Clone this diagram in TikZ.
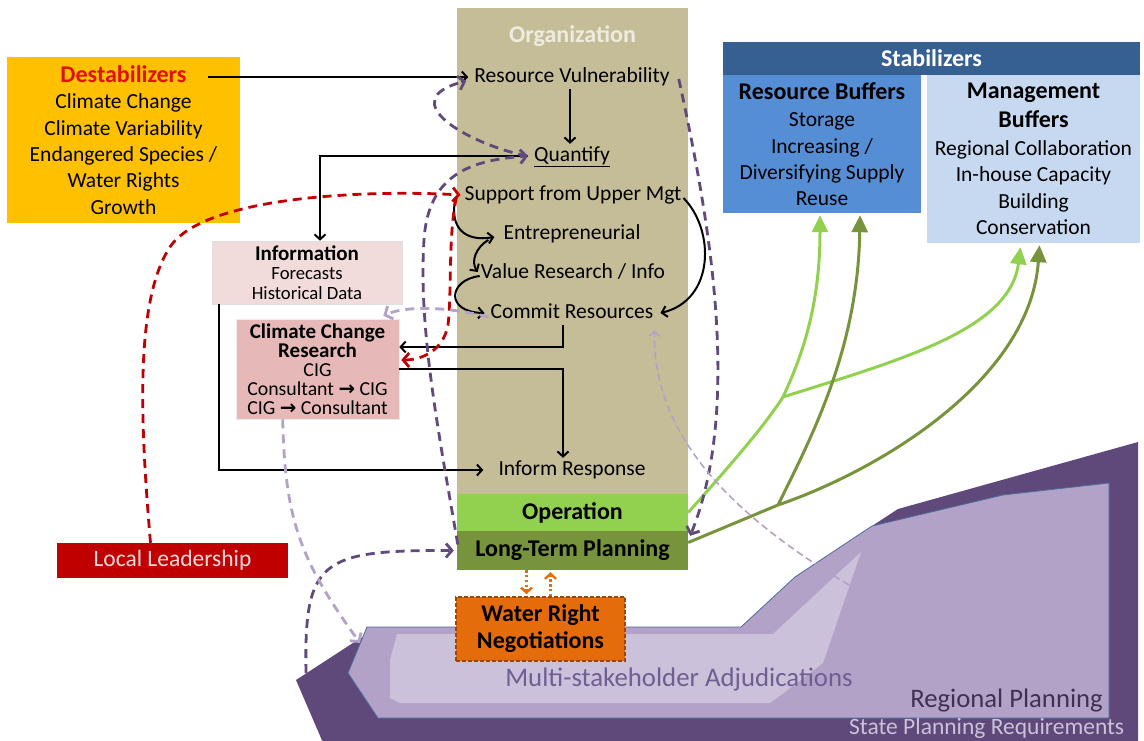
\documentclass[tikz,border=0pt]{standalone}
\usepackage{fontspec}
\setmainfont{Carlito}
\newfontfamily\symfont{DejaVu Sans}
\usetikzlibrary{arrows.meta,calc}

\definecolor{destfill}{HTML}{FFC000}
\definecolor{desttitle}{HTML}{E01010}
\definecolor{orgfill}{HTML}{C4BD97}
\definecolor{orgtitle}{HTML}{EEECE1}
\definecolor{opfill}{HTML}{92D050}
\definecolor{ltpfill}{HTML}{77933C}
\definecolor{stabfill}{HTML}{376092}
\definecolor{rbfill}{HTML}{558ED5}
\definecolor{mbfill}{HTML}{C6D9F1}
\definecolor{infofill}{HTML}{F2DCDB}
\definecolor{ccrfill}{HTML}{E6B9B8}
\definecolor{llfill}{HTML}{C00000}
\definecolor{lltext}{HTML}{F2DCDB}
\definecolor{wrnfill}{HTML}{E46C0A}
\definecolor{wrnedge}{HTML}{984807}
\definecolor{statefill}{HTML}{5F497A}
\definecolor{regionfill}{HTML}{B3A2C7}
\definecolor{adjfill}{HTML}{CCC1DA}
\definecolor{regionedge}{HTML}{4A6C9B}
\definecolor{adjtext}{HTML}{6F5E92}
\definecolor{regiontext}{HTML}{403152}
\definecolor{pdark}{HTML}{604A7B}
\definecolor{plight}{HTML}{B3A2C7}
\definecolor{rdash}{HTML}{C00000}
\definecolor{lgreen}{HTML}{92D050}
\definecolor{dgreen}{HTML}{77933C}
\definecolor{odot}{HTML}{E46C0A}

\setlength{\lineskiplimit}{-20pt}

\tikzset{
  panel/.style={rectangle, inner sep=0pt, align=center, font=\fontsize{21.5}{26.3}\selectfont},
  itm/.style={inner xsep=6pt, inner ysep=2pt, text height=15pt, text depth=5pt,
              font=\fontsize{21.5}{26}\selectfont},
  blk/.style={draw=black, line width=2pt, -{Straight Barb[length=5pt,width=11pt]}},
  pdash/.style={draw=pdark, line width=2.8pt, dash pattern=on 9pt off 6pt,
                -{Straight Barb[length=6pt,width=14pt]}},
  lpdash/.style={draw=plight, line width=2.8pt, dash pattern=on 9pt off 6pt,
                 -{Straight Barb[length=6pt,width=14pt]}},
  lpthin/.style={draw=plight, line width=1.6pt, dash pattern=on 7pt off 4pt,
                 -{Straight Barb[length=5pt,width=11pt]}},
  rdashed/.style={draw=rdash, line width=2.8pt, dash pattern=on 9pt off 6pt,
                  -{Straight Barb[length=6pt,width=14pt]}},
  gline/.style={line width=3pt},
  garrow/.style={line width=3pt, -{Triangle[length=17pt,width=16pt]}},
  odotted/.style={draw=odot, line width=2.4pt, dash pattern=on 2.4pt off 2.4pt,
                  -{Straight Barb[length=5pt,width=11pt]}},
}

\begin{document}
\begin{tikzpicture}[x=1pt,y=-1pt]
\useasboundingbox (0,0) rectangle (1144,740);
\clip (0,0) rectangle (1144,740);

% planning layers at the bottom right
\fill[statefill] (296,680) -- (356,641) -- (368,634) -- (735,634) -- (872,526)
  -- (898,509) -- (1138,442) -- (1138,745) -- (324,745) -- cycle;
\filldraw[fill=regionfill, draw=regionedge, line width=0.8pt]
  (348,673) -- (367,627) -- (741,627) -- (795,577) -- (872,526) -- (1003,495)
  -- (1109,483) -- (1109,718) -- (378,718) -- cycle;
\fill[adjfill] (397,634) -- (773,634) -- (861,552) -- (823,663) -- (781,695)
  -- (770,703) -- (400,703) -- (390,698) -- (390,660) -- cycle;

\node[font=\fontsize{26.8}{30}\selectfont, text=adjtext, anchor=base, inner sep=0]
  (adjt) at (679,686) {Multi-stakeholder Adjudications};
\node[font=\fontsize{26.7}{30}\selectfont, text=regiontext, anchor=base east, inner sep=0]
  (regt) at (1103,707) {Regional Planning};
\node[font=\fontsize{23.5}{28}\selectfont, text=adjfill, anchor=base west, inner sep=0]
  (statet) at (849,734) {State Planning Requirements};

% boxes
\node[panel, fill=destfill, minimum width=233pt, minimum height=166pt] (dest) at (123.5,140)
  {{\fontsize{24}{26.3}\selectfont\bfseries\color{desttitle}Destabilizers}\\Climate Change\\
   Climate Variability\\Endangered Species /\\Water Rights\\Growth};

\node[fill=orgfill, minimum width=231pt, minimum height=486pt, inner sep=0] (org) at (572.5,251) {};
\node[font=\fontsize{24}{28}\selectfont\bfseries, text=orgtitle] (orgt) at (572.5,36) {Organization};
\node[fill=opfill, minimum width=231pt, minimum height=37pt, inner sep=0,
      font=\fontsize{24}{28}\selectfont\bfseries] (op) at (572.5,512.5) {Operation};
\node[fill=ltpfill, minimum width=231pt, minimum height=39pt, inner sep=0,
      font=\fontsize{24}{28}\selectfont\bfseries] (ltp) at (572.5,550.5) {Long-Term Planning};

\node[fill=stabfill, minimum width=417pt, minimum height=33pt, inner sep=0, text=white,
      font=\fontsize{24}{28}\selectfont\bfseries] (stab) at (931.5,58.5) {Stabilizers};
\node[panel, fill=rbfill, minimum width=198pt, minimum height=138pt] (rb) at (822,144)
  {{\fontsize{24}{26.3}\selectfont\bfseries Resource Buffers}\\[1.5pt]Storage\\Increasing /\\
   Diversifying Supply\\Reuse};
\node[panel, fill=mbfill, minimum width=213pt, minimum height=168pt] (mb) at (1033.5,159)
  {{\fontsize{24}{26.3}\selectfont\bfseries Management}\\[2.5pt]
   {\fontsize{24}{26.3}\selectfont\bfseries Buffers}\\[1.5pt]Regional Collaboration\\
   In-house Capacity\\Building\\Conservation};

\node[panel, fill=infofill, draw=black!12, line width=0.6pt, minimum width=190pt,
      minimum height=63pt, font=\fontsize{18.7}{19.5}\selectfont] (info) at (307,272.5)
  {{\fontsize{21}{19.5}\selectfont\bfseries Information}\\Forecasts\\Historical Data};
\node[panel, fill=ccrfill, draw=black!8, line width=0.6pt, minimum width=163pt,
      minimum height=100pt, font=\fontsize{19.8}{19}\selectfont] (ccr) at (317.5,369)
  {{\fontsize{21}{19}\selectfont\bfseries Climate Change}\\
   {\fontsize{21}{19}\selectfont\bfseries Research}\\CIG\\
   Consultant {\symfont\bfseries →} CIG\\CIG {\symfont\bfseries →} Consultant};

\node[fill=llfill, minimum width=231pt, minimum height=35pt, inner sep=0, text=lltext,
      font=\fontsize{23.5}{26}\selectfont] (ll) at (172.5,560.5) {Local Leadership};

\node[fill=wrnfill, draw=wrnedge, line width=1.6pt, dash pattern=on 4pt off 2pt,
      minimum width=169pt, minimum height=64pt, inner sep=0, align=center,
      font=\fontsize{24}{27}\selectfont\bfseries] (wrn) at (540.5,629) {Water Right\\Negotiations};

% organization steps
\node[itm] (rv) at (572,77) {Resource Vulnerability};
\node[itm] (quant) at (572,156) {\underline{Quantify}};
\node[itm] (sup) at (573,195) {Support from Upper Mgt};
\node[itm] (ent) at (572,234) {Entrepreneurial};
\node[itm] (val) at (573,273) {Value Research / Info};
\node[itm] (com) at (572,313) {Commit Resources};
\node[itm] (inf) at (572,470) {Inform Response};

% stabilizer links
\coordinate (g1) at (783,397);
\coordinate (g2) at (778,505);
\draw[garrow, lgreen] (op.east) .. controls (735,460) and (765,425) .. (g1)
  .. controls (805,350) and (820,300) .. ($(rb.south)+(-2,2)$);
\draw[garrow, lgreen] (g1) .. controls (900,360) and (1010,330) .. ($(mb.south)+(-13,4)$);
\draw[gline, dgreen] ($(ltp.east)+(0,-8)$) -- (g2);
\draw[garrow, dgreen] (g2) .. controls (810,440) and (858,350) .. ($(rb.south)+(38,2)$);
\draw[garrow, dgreen] (g2) .. controls (880,470) and (1030,380) .. ($(mb.south)+(6,2)$);

% solid flow
\coordinate (dsrc) at (208,77);
\draw[blk] (dsrc) -- (rv.west);
\draw[blk] ([xshift=-2pt]rv.south) -- ([xshift=-2pt]quant.north);
\draw[blk] (quant.west) -| ([xshift=13pt]info.north);
\draw[blk] ($(sup.west)+(-3,3)$) .. controls (449,228) and (465,242) .. ($(ent.west)+(-3,3)$);
\draw[blk] ($(ent.west)+(-9,6)$) .. controls (475,248) and (471,262) .. ($(val.west)+(3,-1)$);
\draw[blk] ($(val.west)+(5,3)$) .. controls (448,280) and (445,312) .. (com.west);
\draw[blk] ($(sup.east)+(-4,3)$) .. controls (715,230) and (715,300) .. ($(com.east)+(1,0)$);
\draw[blk] ([xshift=-9pt]com.south) |- ($(ccr.east)+(0,-22)$);
\draw[blk] (ccr.east) -| ($(inf.north)+(-9,0)$);
\draw[blk] ($(info.south west)+(7,0)$) |- ($(inf.west)+(-9,0)$);

% dashed feedback
\draw[pdash] ($(quant.west)+(-1,0)$) .. controls (468,144) and (392,100) .. ($(rv.west)+(-2,4)$);
\draw[pdash] ($(ltp.west)+(1,-6)$) .. controls (440,440) and (418,330) .. (424,240)
  .. controls (428,175) and (470,160) .. (quant.west);
\draw[pdash] ($(rv.east)+(3,2)$) .. controls (705,200) and (745,400) .. ($(ltp.north east)+(2,5)$);
\coordinate (sprq) at (306,673);
\draw[pdash] (sprq) .. controls (304,560) and (320,550) .. ($(ltp.west)+(-3,0)$);

\draw[rdashed] ($(ll.north)+(-22,0)$) .. controls (140,420) and (135,300) .. (170,247)
  .. controls (205,194) and (380,190) .. ($(sup.west)+(2,0)$);
\draw[rdashed] ($(sup.west)+(-2,2)$) .. controls (448,235) and (452,290) .. (448,325)
  .. controls (443,352) and (420,360) .. ($(ccr.east)+(2,-9)$);

\draw[lpdash] ($(com.west)+(4,4)$) .. controls (445,306) and (405,306) .. ($(ccr.north east)+(-16,-3)$);
\coordinate (adjc) at (360,643);
\draw[lpdash] ($(ccr.south west)+(47,0)$) .. controls (285,520) and (300,560) .. (adjc);
\coordinate (regc) at (849,585);
\draw[lpthin] (regc) .. controls (740,520) and (652,440) .. ($(com.south east)+(-5,5)$);

% negotiation exchange
\draw[odotted] ($(ltp.south)+(-46,0)$) -- ($(wrn.north)+(-14,-2)$);
\draw[odotted] ($(wrn.north)+(10,0)$) -- ($(ltp.south)+(-22,2)$);
\end{tikzpicture}
\end{document}
